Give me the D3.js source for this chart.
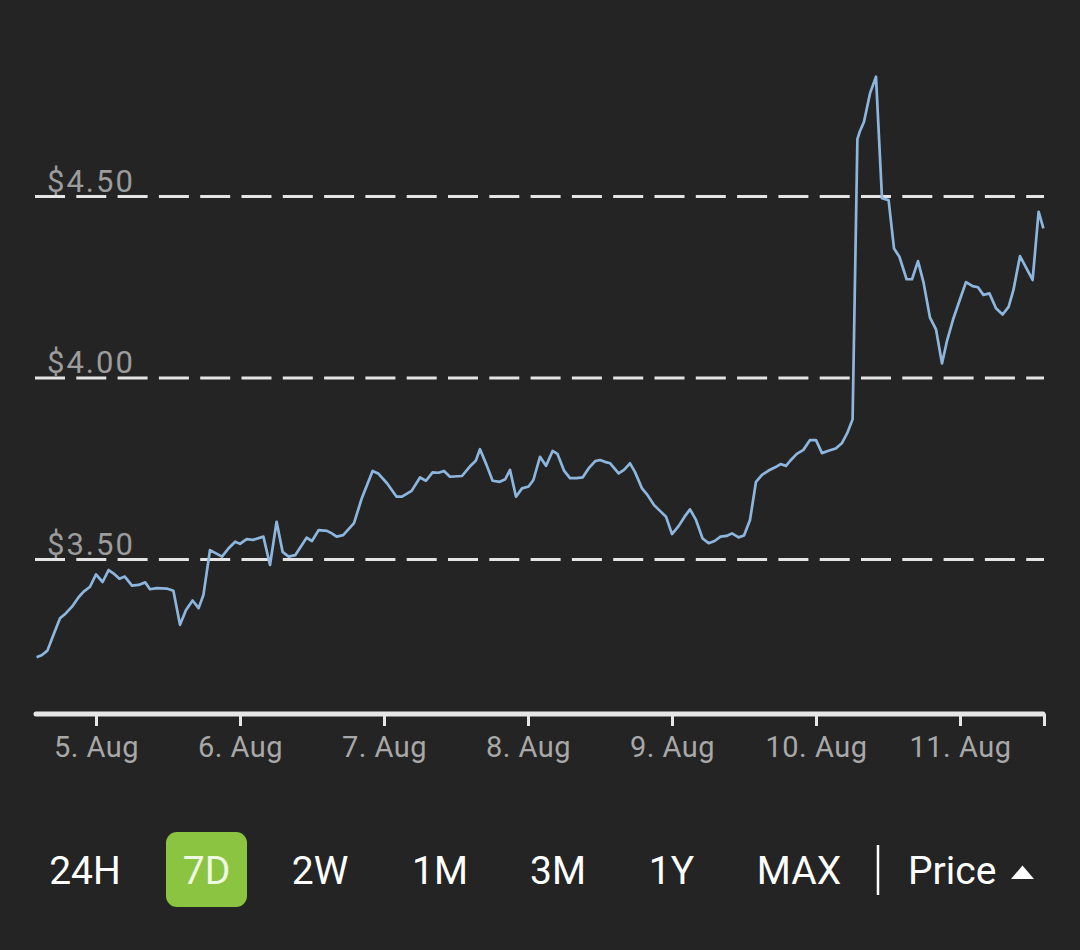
<!DOCTYPE html>
<html>
<head>
<meta charset="utf-8">
<script src="https://cdn.jsdelivr.net/npm/d3@7"></script>
<style>
    html, body { margin: 0; padding: 0; background: #242424; }
    svg { display: block; font-family: Roboto, "Noto Sans", sans-serif; }
</style>
</head>
<body>
<div class="chart"></div>
<script>
// hours counted from 4 Aug 00:00 (UTC), one reading per point on the line
const hours = [14.1, 15.0, 15.9, 16.9, 18.0, 18.8, 20.0, 21.1, 21.9, 23.0,
    24.0, 25.1, 26.1, 26.9, 27.9, 28.8, 30.0, 31.1, 32.2, 33.0, 34.1, 35.8, 36.9, 38.0, 39.0, 40.1, 41.1, 41.9, 43.0,
    45.0, 46.1, 47.2, 48.0, 49.1, 50.2, 51.9, 53.0, 54.1, 55.1, 56.1, 57.2, 59.1, 60.0, 61.1, 62.5, 63.3, 64.1, 65.2, 67.0, 68.3, 70.1, 71.1,
    72.5, 74.1, 75.0, 76.6, 78.0, 79.0, 80.1, 81.1, 82.0, 83.0, 85.0, 86.3, 87.3, 88.0, 89.1, 90.1, 91.3, 92.2, 93.0, 94.0, 95.0, 96.1, 96.9, 98.0, 99.0,
    100.1, 100.9, 102.0, 103.0, 104.1, 105.1, 106.1, 107.2, 108.0, 108.8, 109.7, 111.1, 112.0, 113.0, 113.8, 115.0, 115.9, 117.0, 118.0, 119.0, 120.0, 121.1, 122.1, 123.0, 124.0, 125.1, 126.1, 127.1, 128.1, 129.1, 130.0, 131.1, 132.0,
    133.0, 134.0, 135.0, 136.1, 137.2, 138.1, 139.0, 139.7, 140.8, 141.9, 143.0, 144.0, 145.0, 146.2, 147.3, 148.3, 149.2, 150.1,
    150.9, 151.3, 152.0, 153.0, 154.0, 155.0, 156.1, 157.0, 157.9, 159.1, 160.0, 161.0, 161.9, 163.0, 164.0, 165.0, 165.8, 166.9, 168.0, 169.0, 170.1, 171.0, 171.9, 172.9, 174.0, 175.1, 176.1, 176.9, 178.0, 180.1, 181.1, 181.9];

// price in dollars at each of those hours
const prices = [3.231, 3.237, 3.249, 3.292, 3.338, 3.349, 3.370, 3.396, 3.411, 3.425,
    3.459, 3.438, 3.471, 3.462, 3.447, 3.453, 3.428, 3.430, 3.437, 3.418, 3.421, 3.420, 3.414, 3.320, 3.361, 3.387, 3.366, 3.402, 3.526,
    3.508, 3.531, 3.549, 3.543, 3.556, 3.554, 3.563, 3.485, 3.604, 3.521, 3.508, 3.512, 3.560, 3.551, 3.581, 3.579, 3.572, 3.563, 3.567, 3.600, 3.669, 3.744, 3.736,
    3.710, 3.673, 3.673, 3.689, 3.726, 3.717, 3.740, 3.739, 3.744, 3.728, 3.730, 3.756, 3.772, 3.804, 3.760, 3.717, 3.714, 3.721, 3.747, 3.673, 3.696, 3.701, 3.719, 3.783, 3.758,
    3.799, 3.791, 3.745, 3.724, 3.724, 3.726, 3.751, 3.771, 3.774, 3.769, 3.765, 3.737, 3.747, 3.765, 3.742, 3.696, 3.678, 3.650, 3.634, 3.618, 3.570, 3.592, 3.618, 3.638, 3.609, 3.558, 3.545, 3.551, 3.563, 3.565, 3.572, 3.561, 3.566,
    3.609, 3.714, 3.733, 3.745, 3.754, 3.763, 3.758, 3.772, 3.791, 3.802, 3.829, 3.829, 3.793, 3.800, 3.806, 3.820, 3.848, 3.886,
    4.658, 4.679, 4.706, 4.784, 4.830, 4.495, 4.490, 4.357, 4.334, 4.272, 4.272, 4.322, 4.265, 4.166, 4.134, 4.040, 4.100, 4.164, 4.217, 4.264, 4.253, 4.250, 4.229, 4.233, 4.192, 4.175, 4.196, 4.242, 4.336, 4.270, 4.458, 4.412];

// dashed price levels
const gridPrices = [3.5, 4.0, 4.5];

// range buttons under the chart
const ranges = ["24H", "7D", "2W", "1M", "3M", "1Y", "MAX"];
const activeRange = "7D";
const sortLabel = "Price";

// Sizes
let width = 1080;
let height = 950;

// Time window shown (7 days)
const start = Date.UTC(2021, 7, 4, 14);
const end = Date.UTC(2021, 7, 11, 14);
const dayStart = Date.UTC(2021, 7, 4);

let data = hours.map((h, i) => ({ date: new Date(dayStart + h * 3600000), price: prices[i] }));

let svg = d3.select(".chart").append("svg")
    .attr("width", width)
    .attr("height", height);

// x scale, 144px per day
const xScale = d3.scaleUtc()
    .domain([new Date(start), new Date(end)])
    .range([36, 1044]);

// y scale, $1 = 363px
const yScale = d3.scaleLinear()
    .domain([3, 5])
    .range([741, 15]);

// Dashed grid lines with labels
const grid = svg.append("g");
grid.selectAll("line").data(gridPrices).enter().append("line")
    .attr("x1", 35)
    .attr("x2", 1044)
    .attr("y1", d => yScale(d))
    .attr("y2", d => yScale(d))
    .style("stroke", "#e4e4e4")
    .style("stroke-width", 3)
    .style("stroke-dasharray", "30,11.3");

grid.selectAll("text").data(gridPrices).enter().append("text")
    .attr("x", 47)
    .attr("y", d => yScale(d) - 5)
    .text(d => "$" + d.toFixed(2))
    .style("fill", "#9c9c9c")
    .style("font-size", "31px")
    .style("letter-spacing", "2px");

// x axis
const dayTicks = d3.utcDay.range(new Date(Date.UTC(2021, 7, 5)), new Date(Date.UTC(2021, 7, 12)));
const fmt = d3.utcFormat("%-d. %b");

const xAxis = svg.append("g")
    .attr("transform", "translate(0, 714)")
    .call(d3.axisBottom(xScale)
        .tickValues(dayTicks.concat([new Date(end)]))
        .tickFormat((d, i) => i < dayTicks.length ? fmt(d) : "")
        .tickSizeOuter(0)
        .tickSize(12)
        .tickPadding(10));

xAxis.select(".domain").remove();
xAxis.insert("line", ":first-child")
    .attr("x1", 36)
    .attr("x2", 1043)
    .style("stroke", "#e6e6e6")
    .style("stroke-width", 5)
    .style("stroke-linecap", "round");

xAxis.selectAll(".tick line")
    .style("stroke", "#e6e6e6")
    .style("stroke-width", 3);

xAxis.selectAll(".tick text")
    .style("fill", "#a8a8a8")
    .style("font-size", "29px")
    .style("letter-spacing", "0.5px")
    .style("font-family", "Roboto, sans-serif");

// Price line
const line = d3.line()
    .x(d => xScale(d.date))
    .y(d => yScale(d.price));

svg.append("path")
    .datum(data)
    .attr("d", line)
    .style("fill", "none")
    .style("stroke", "#8db6df")
    .style("stroke-width", 2.7)
    .style("stroke-linejoin", "round");

// Range buttons
const buttonX = [85, 206.5, 320, 440, 558, 671.5, 799];
const buttons = svg.append("g");

buttons.selectAll("rect").data(ranges.filter(r => r == activeRange)).enter().append("rect")
    .attr("x", d => buttonX[ranges.indexOf(d)] - 40.5)
    .attr("y", 832)
    .attr("width", 81)
    .attr("height", 75)
    .attr("rx", 11)
    .style("fill", "#8bc440");

buttons.selectAll("text").data(ranges).enter().append("text")
    .attr("x", (d, i) => buttonX[i])
    .attr("y", 884)
    .attr("text-anchor", "middle")
    .text(d => d)
    .style("fill", d => d == activeRange ? "#eef8e4" : "#ffffff")
    .style("font-size", "39px");

// divider
svg.append("line")
    .attr("x1", 878).attr("x2", 878)
    .attr("y1", 845).attr("y2", 895)
    .style("stroke", "#ffffff")
    .style("stroke-width", 2.5);

svg.append("text")
    .attr("x", 908)
    .attr("y", 884)
    .text(sortLabel)
    .style("fill", "#ffffff")
    .style("font-size", "39px");

// sort arrow
svg.append("path")
    .attr("d", "M1011,879 L1022.5,865.5 L1034,879 Z")
    .style("fill", "#ffffff");
</script>
</body>
</html>
